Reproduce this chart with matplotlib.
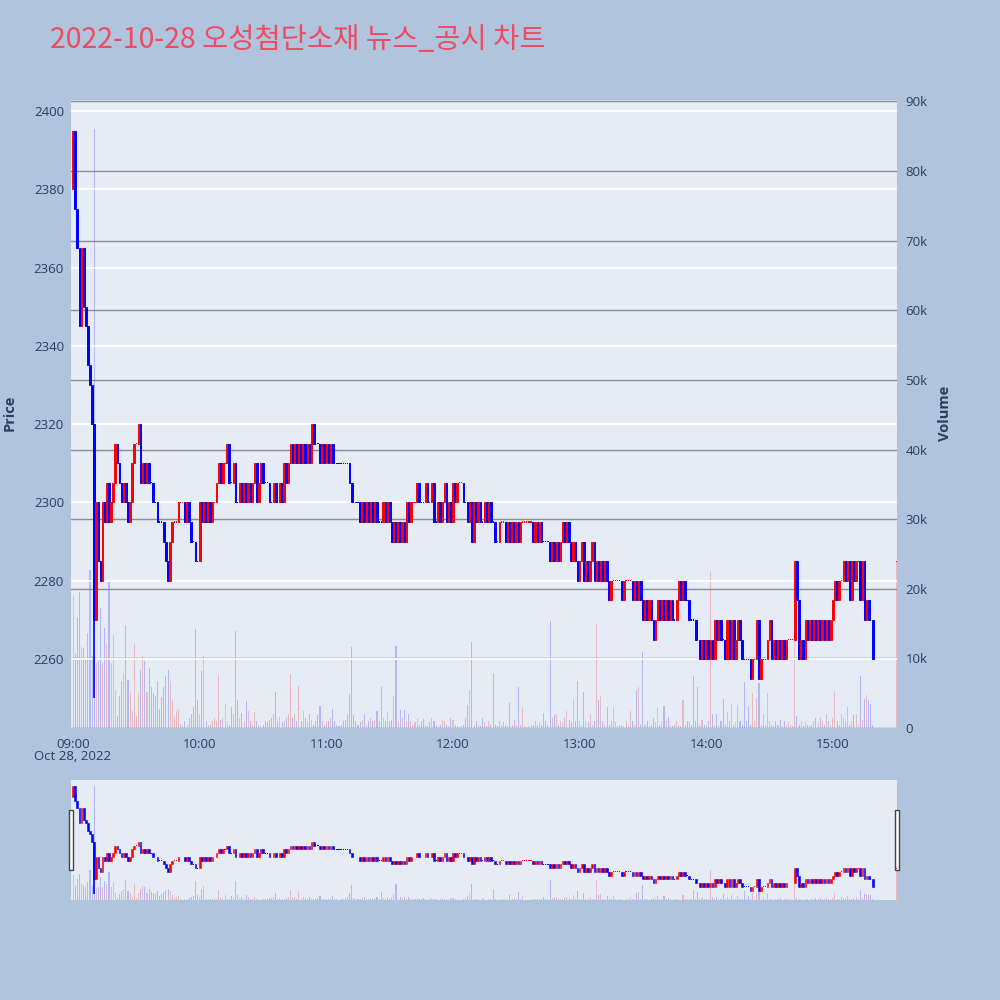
import numpy as np
import matplotlib
matplotlib.use('Agg')
import matplotlib.pyplot as plt
from matplotlib.patches import Rectangle

plt.rcParams['font.family'] = ['Open Sans', 'Noto Sans CJK KR', 'DejaVu Sans']

title = '2022-10-28 오성첨단소재 뉴스_공시 차트'
date_label = 'Oct 28, 2022'
hour_labels = ['09:00', '10:00', '11:00', '12:00', '13:00', '14:00', '15:00']

# 1분봉 종가 (09:00 부터 1분 간격), 시가는 직전 종가
first_open = 2380
closes = [
    2395, 2375, 2365, 2345, 2365, 2350, 2345, 2335, 2330, 2320,
    2270, 2300, 2285, 2280, 2300, 2295, 2305, 2295, 2300, 2305,
    2315, 2310, 2305, 2300, 2305, 2300, 2295, 2300, 2310, 2315,
    2315, 2320, 2305, 2310, 2305, 2310, 2305, 2305, 2300, 2300,
    2295, 2295, 2295, 2290, 2285, 2280, 2290, 2295, 2295, 2295,
    2300, 2300, 2300, 2295, 2300, 2295, 2290, 2290, 2285, 2285,
    2300, 2295, 2300, 2295, 2300, 2295, 2300, 2300, 2305, 2310,
    2305, 2310, 2310, 2315, 2305, 2305, 2310, 2300, 2300, 2305,
    2300, 2305, 2300, 2305, 2300, 2305, 2310, 2300, 2305, 2310,
    2305, 2305, 2305, 2300, 2300, 2305, 2300, 2300, 2305, 2300,
    2310, 2305, 2310, 2315, 2310, 2315, 2310, 2315, 2310, 2315,
    2310, 2315, 2310, 2320, 2315, 2315, 2315, 2310, 2315, 2310,
    2315, 2310, 2315, 2310, 2310, 2310, 2310, 2310, 2310, 2310,
    2310, 2305, 2300, 2300, 2300, 2300, 2295, 2300, 2295, 2300,
    2295, 2300, 2295, 2300, 2295, 2295, 2295, 2300, 2295, 2300,
    2295, 2290, 2295, 2290, 2295, 2290, 2295, 2290, 2300, 2295,
    2300, 2300, 2300, 2305, 2300, 2300, 2300, 2305, 2300, 2300,
    2305, 2295, 2295, 2300, 2295, 2300, 2305, 2295, 2300, 2295,
    2305, 2300, 2305, 2305, 2305, 2300, 2300, 2295, 2300, 2290,
    2300, 2295, 2300, 2295, 2295, 2300, 2295, 2300, 2295, 2295,
    2290, 2290, 2295, 2295, 2295, 2290, 2295, 2290, 2295, 2290,
    2295, 2290, 2295, 2295, 2295, 2295, 2295, 2295, 2290, 2295,
    2290, 2295, 2290, 2290, 2290, 2290, 2285, 2290, 2285, 2290,
    2285, 2290, 2295, 2290, 2295, 2290, 2285, 2290, 2285, 2280,
    2285, 2290, 2280, 2285, 2280, 2285, 2290, 2280, 2285, 2280,
    2285, 2280, 2285, 2280, 2275, 2280, 2280, 2280, 2280, 2280,
    2275, 2280, 2280, 2280, 2280, 2275, 2280, 2275, 2280, 2275,
    2270, 2275, 2270, 2275, 2270, 2265, 2270, 2275, 2270, 2275,
    2270, 2275, 2270, 2275, 2270, 2270, 2275, 2280, 2275, 2280,
    2275, 2275, 2270, 2270, 2270, 2265, 2265, 2260, 2265, 2260,
    2265, 2260, 2265, 2260, 2270, 2265, 2270, 2265, 2265, 2260,
    2270, 2260, 2270, 2260, 2265, 2270, 2265, 2260, 2260, 2260,
    2260, 2255, 2260, 2260, 2270, 2255, 2260, 2260, 2260, 2265,
    2270, 2260, 2265, 2260, 2265, 2260, 2265, 2260, 2265, 2265,
    2265, 2265, 2285, 2275, 2260, 2265, 2260, 2270, 2265, 2270,
    2265, 2270, 2265, 2270, 2265, 2270, 2265, 2270, 2265, 2270,
    2275, 2280, 2275, 2280, 2280, 2285, 2280, 2285, 2275, 2285,
    2280, 2285, 2285, 2275, 2285, 2270, 2275, 2270, 2270, 2260,
]

# 거래량 (천주)
volumes = [
    19, 10.7, 16, 19.6, 11.7, 11.5, 10, 13.6, 22.7, 10.4,
    86, 9.3, 9.6, 17.3, 9.4, 14.4, 12, 21, 9.4, 13.3,
    5.4, 1.7, 4.6, 6.8, 7.9, 14.8, 6.9, 5, 2.5, 12,
    1.7, 5, 8.4, 10.4, 9.6, 5.2, 8.6, 5.9, 5, 4.6,
    6.8, 2.8, 4.5, 5.9, 7.5, 8.4, 6.8, 4, 1.7, 2.4,
    2.7, 0.6, 0.3, 1, 0.5, 1.5, 2, 3, 14.2, 4,
    2, 8.2, 10.4, 1, 0.5, 0.5, 1, 1.5, 1, 7.6,
    1.2, 1.5, 3.4, 1, 0.5, 3, 2, 14, 4, 1.5,
    2.1, 1, 3.9, 2.5, 1, 0.5, 2.3, 1, 0.5, 0.3,
    0.5, 1, 0.8, 1.2, 1.5, 2, 5.2, 1, 1.6, 0.8,
    1, 1.5, 2, 7.7, 1.5, 2, 1, 6, 1, 2.5,
    1.5, 1, 2, 1.2, 0.5, 1, 1.8, 3.2, 1, 0.5,
    0.8, 1, 1.5, 2.7, 1, 0.5, 0.3, 0.5, 1, 1.2,
    2, 4.9, 11.6, 1.8, 1, 0.5, 0.8, 1.2, 2, 0.5,
    1, 1.5, 1, 1.2, 2.5, 1, 5.9, 1.5, 1, 2.3,
    1, 1.2, 4.6, 11.8, 1, 2.6, 1.5, 2.6, 1, 2,
    1, 0.5, 0.8, 1.5, 0.5, 1, 1.3, 0.5, 0.3, 0.8,
    1.5, 1, 0.5, 0.3, 0.5, 1.2, 1, 0.5, 0.3, 1.4,
    1.2, 0.5, 0.3, 0.2, 0.3, 0.5, 1.5, 3.3, 5.5, 12.4,
    0.5, 1, 0.5, 0.3, 1.5, 0.8, 0.3, 1, 0.5, 7.9,
    0.5, 0.3, 1, 0.5, 0.8, 0.5, 0.3, 3.6, 0.5, 1.2,
    0.5, 5.9, 0.5, 2.9, 0.3, 0.2, 0.3, 0.5, 0.5, 1,
    0.5, 0.8, 0.5, 2.2, 1, 0.5, 15.3, 1.5, 1.8, 2,
    0.5, 1, 0.8, 1.5, 2.5, 1.2, 0.8, 4.1, 1, 6.8,
    1, 0.5, 5.2, 1, 0.8, 2, 0.5, 1, 14.9, 4,
    4.6, 1, 0.5, 3, 0.5, 1, 3, 0.8, 0.3, 0.5,
    0.5, 0.3, 1, 0.5, 2.4, 1, 0.5, 5.4, 5.9, 0.5,
    10.9, 0.5, 1, 0.3, 0.5, 1.5, 0.8, 3, 0.5, 1,
    3.2, 1, 1.6, 0.5, 0.3, 0.5, 1, 0.5, 0.3, 4,
    0.5, 1, 0.8, 0.5, 7.4, 1, 5.9, 0.5, 1.2, 0.5,
    0.5, 1, 22.4, 2, 0.5, 2, 0.5, 1, 4.2, 0.5,
    2.3, 1, 3.5, 0.5, 0.8, 3.3, 1, 0.5, 6.6, 1,
    3.2, 0.5, 5, 1, 4.3, 6.4, 0.5, 2, 0.5, 5,
    1, 0.5, 0.3, 1, 0.5, 1.2, 0.3, 1, 0.5, 0.8,
    0.5, 0.3, 24, 1.7, 0.5, 1, 0.3, 0.8, 0.5, 0.3,
    0.5, 1, 1.5, 0.8, 1.5, 1, 0.5, 2, 1, 0.5,
    1.5, 5.2, 1, 0.5, 2, 1.5, 1, 3, 0.5, 1,
    1.8, 2, 0.5, 7.4, 1.2, 4.2, 4.7, 4, 3.5, 0.5,
]

wick_lows = {10: 2250}

# 15:30 동시호가
auction_minute = 390
auction_price = 2285
auction_volume = 24

up, down = '#FF0000', '#0000FF'

t = list(range(len(closes))) + [auction_minute]
o = [first_open] + closes[:-1] + [auction_price]
c = closes + [auction_price]
v = volumes + [auction_volume]

colors = []
last = up
for i in range(len(c)):
    if c[i] > o[i]:
        last = up
    elif c[i] < o[i]:
        last = down
    colors.append(last)
colors[-1] = up

t = np.array(t)
o = np.array(o, dtype=float)
c = np.array(c, dtype=float)
v = np.array(v, dtype=float)

xlim = (-1, 390.4)
plim = (2242.4, 2402.8)
vlim = (0, 90.2)
bg = '#E5ECF6'
txt = '#2a3f5f'


def draw(axp, axv, flat_h, edge):
    lo = np.minimum(o, c)
    h = np.abs(c - o)
    flat = h == 0
    moving = ~flat
    axv.bar(t, v, width=0.5, color=colors, alpha=0.22, linewidth=0)
    cols = np.array(colors)
    axp.bar(t[moving], h[moving], bottom=lo[moving], width=0.8, color=cols[moving],
            edgecolor=cols[moving], linewidth=edge, zorder=3)
    axp.bar(t[flat], flat_h, bottom=c[flat] - flat_h / 2, width=0.6,
            color=cols[flat], linewidth=0, zorder=3)
    for m, low in wick_lows.items():
        axp.vlines(m, low, max(o[m], c[m]), color=colors[m], lw=1.2, zorder=3)
    axp.set_xlim(*xlim)
    axv.set_xlim(*xlim)
    axp.set_ylim(*plim)
    axv.set_ylim(*vlim)
    axp.set_zorder(axv.get_zorder() + 1)
    axp.patch.set_visible(False)
    axv.patch.set_visible(True)
    axv.set_facecolor(bg)
    for a in (axp, axv):
        for s in a.spines.values():
            s.set_visible(False)


fig = plt.figure(figsize=(10, 10), dpi=100)
fig.patch.set_facecolor('#B0C4DE')

ax = fig.add_axes([0.071, 0.272, 0.826, 0.628])
axv = ax.twinx()
draw(ax, axv, 0.3, 0.7)

ax.set_yticks(np.arange(2260, 2401, 20))
ax.grid(axis='y', color='white', lw=1.3)
ax.set_axisbelow(True)
axv.set_yticks(np.arange(0, 91, 10))
axv.set_yticklabels(['0'] + ['%dk' % k for k in range(10, 91, 10)])
axv.grid(axis='y', color='#8c8c8c', lw=1.0)
ax.set_xticks(np.arange(0, 361, 60))
ax.set_xticklabels(hour_labels)
ax.tick_params(axis='x', length=0, pad=7, labelsize=9.5, colors=txt)
ax.tick_params(axis='y', length=0, pad=5, labelsize=9.5, colors=txt)
axv.tick_params(axis='y', length=0, pad=6, labelsize=9.5, colors=txt)
axv.tick_params(axis='x', length=0, labelbottom=False)

fig.text(0.073, 0.243, date_label, ha='center', va='center', fontsize=9.5, color=txt)
fig.text(0.010, 0.587, 'Price', rotation=90, ha='center', va='center',
         fontsize=10.5, fontweight='bold', color=txt)
fig.text(0.945, 0.587, 'Volume', rotation=90, ha='center', va='center',
         fontsize=10.5, fontweight='bold', color=txt)
fig.text(0.05, 0.96, title, ha='left', va='center', fontsize=20.5,
         color='#EF4B63', family=['Noto Sans CJK KR', 'DejaVu Sans'])

# 레인지 슬라이더
sl = fig.add_axes([0.071, 0.100, 0.826, 0.120])
slv = sl.twinx()
draw(sl, slv, 1.0, 0.4)
for a in (sl, slv):
    a.set_xticks([])
    a.set_yticks([])

for hx in (0.069, 0.895):
    fig.add_artist(Rectangle((hx, 0.130), 0.004, 0.060, transform=fig.transFigure,
                             facecolor='white', edgecolor='#444444', lw=1))

fig.savefig('out.png', dpi=100, facecolor=fig.get_facecolor())
